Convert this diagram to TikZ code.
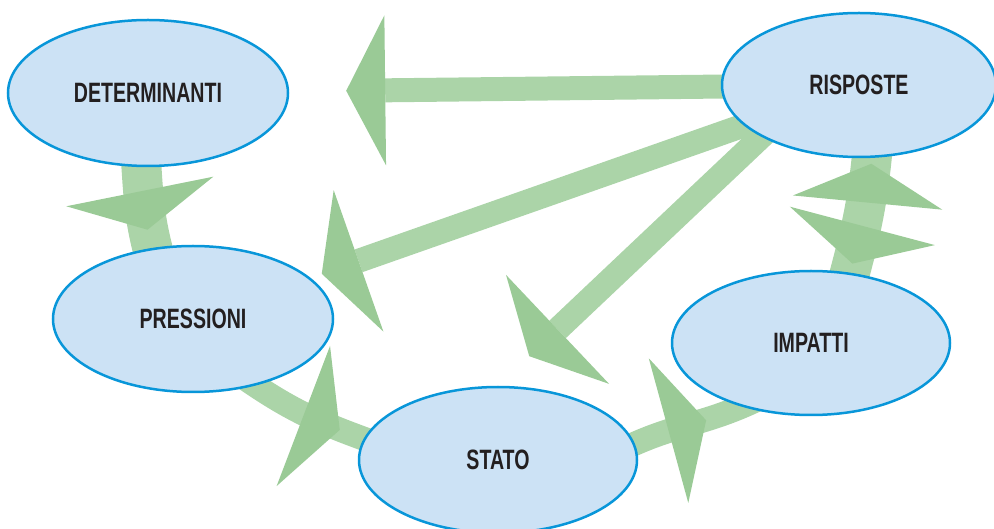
\documentclass[tikz,border=0pt]{standalone}
\usepackage{fontspec}
\setmainfont{Liberation Sans}[FakeStretch=0.7]
\usetikzlibrary{arrows.meta,shapes.geometric,decorations.markings,backgrounds}
\definecolor{DpsirFill}{HTML}{CCE2F5}
\definecolor{DpsirLine}{HTML}{0896D9}
\definecolor{DpsirGreen}{HTML}{ABD4A8}
\definecolor{DpsirHead}{HTML}{9ACA96}
\definecolor{DpsirText}{HTML}{231F20}

\begin{document}
\begin{tikzpicture}[x=1pt,y=1pt,
  box/.style={ellipse,draw=DpsirLine,line width=2.5pt,fill=DpsirFill,
    minimum width=280pt,minimum height=146pt,inner sep=0pt,
    text=DpsirText,font=\fontsize{28}{30}\selectfont\bfseries},
  band/.style={draw=DpsirGreen,line width=24pt},
  wideband/.style={draw=DpsirGreen,line width=40pt},
  bighead/.tip={Triangle[length=39pt,width=150pt,line width=0pt,color=DpsirHead]},
  midhead/.style={postaction={decorate},decoration={markings,
    mark=at position #1 with {\arrow{bighead}}}},
  bothhead/.style 2 args={postaction={decorate},decoration={markings,
    mark=at position #1 with {\arrowreversed{bighead}},
    mark=at position #2 with {\arrow{bighead}}}}]
  \useasboundingbox (0,0) rectangle (994,528);

  % the five boxes
  \node[box] (det) at (148,435) {DETERMINANTI};
  \node[box,minimum width=274pt,minimum height=144pt] (risp) at (859,443) {RISPOSTE};
  \node[box] (pres) at (193,209) {PRESSIONI};
  \node[box,minimum width=278pt] (stato) at (498,68) {STATO};
  \node[box,minimum width=278pt,minimum height=144pt] (imp) at (811,185) {IMPATTI};

  % green arrows behind the boxes
  \begin{scope}[on background layer]
    \draw[band,shorten <=-8pt,shorten >=57pt,-{bighead}] (risp) -- (det);
    \draw[band,shorten <=-8pt,shorten >=12pt,-{bighead}] (risp) -- (pres);
    \draw[band,shorten <=-8pt,shorten >=43pt,-{bighead}] (risp.south west) -- (stato.north);
    \draw[wideband,shorten <=-20pt,shorten >=-20pt,midhead=0.77]
      (det.265) to[out=-86,in=106] (pres.120);
    \draw[wideband,shorten <=-20pt,shorten >=-20pt,bothhead={0.05}{0.92}]
      (risp.280) to[out=-95,in=75] (imp.61);
    \draw[band,shorten <=-20pt,shorten >=-20pt,midhead=0.79]
      (pres.313) to[out=-35,in=160] (stato.171);
    \draw[band,shorten <=-20pt,shorten >=-20pt,midhead=0.66]
      (stato.7) to[out=27,in=206] (imp.223);
  \end{scope}
\end{tikzpicture}
\end{document}
